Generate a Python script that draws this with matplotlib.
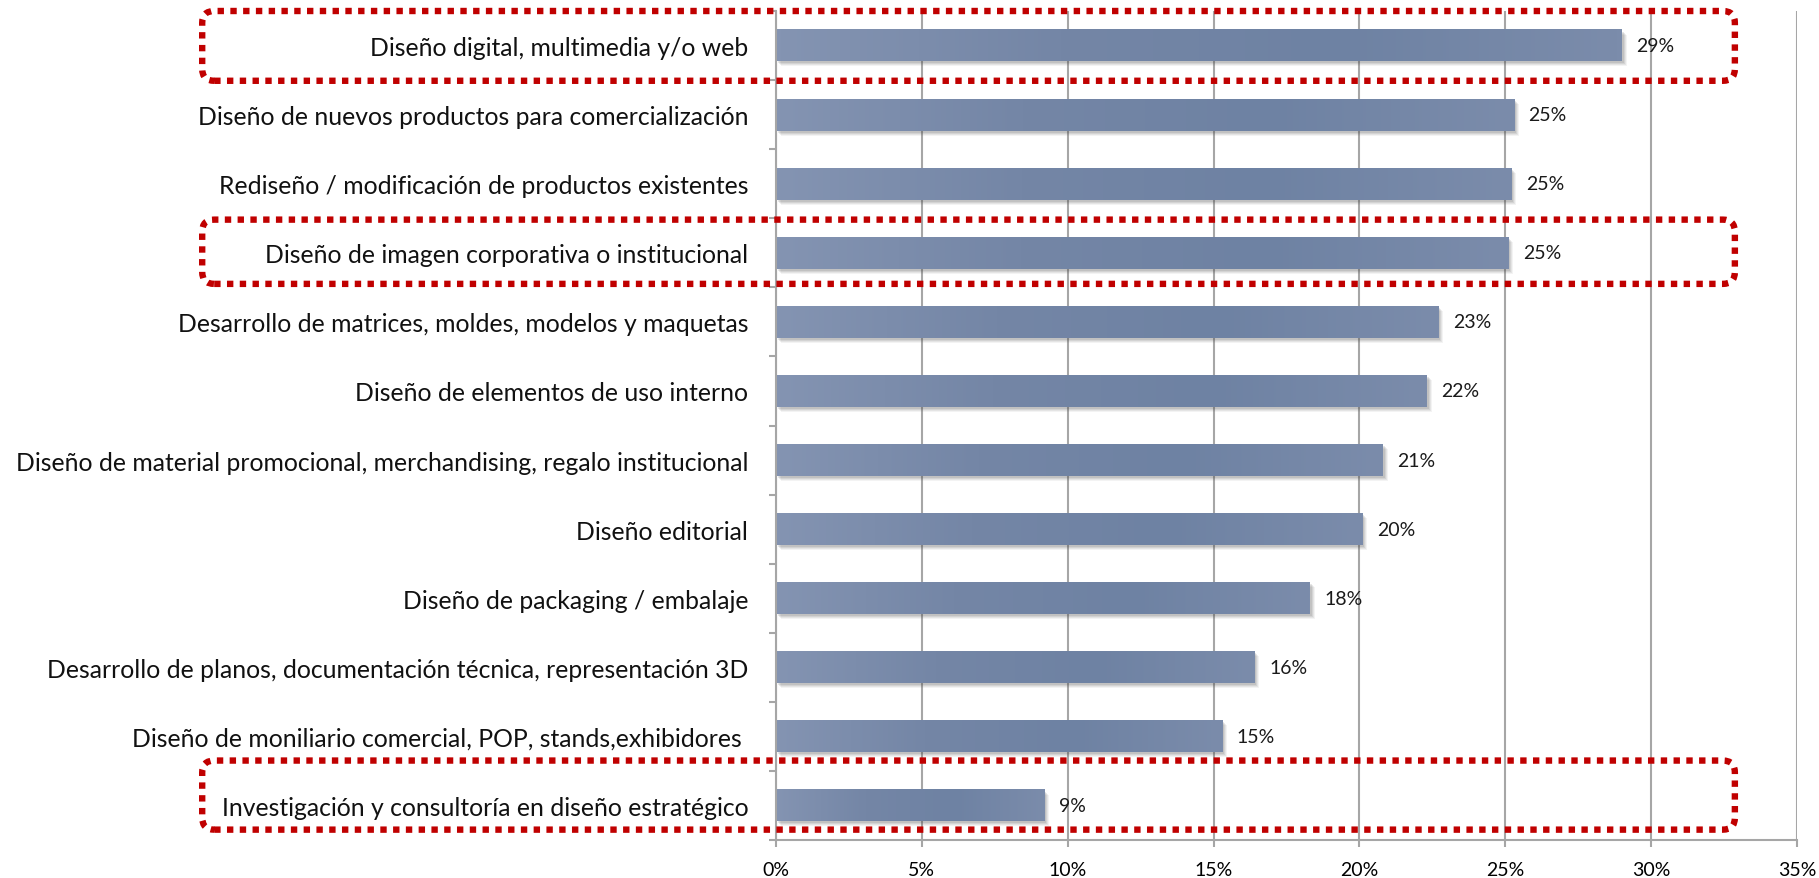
import matplotlib
matplotlib.use('Agg')
import matplotlib.pyplot as plt
import matplotlib.transforms as mtransforms
from matplotlib.patches import FancyBboxPatch, Rectangle
from matplotlib.colors import LinearSegmentedColormap
import numpy as np

# data
categories = ['Diseño digital, multimedia y/o web',
              'Diseño de nuevos productos para comercialización',
              'Rediseño / modificación de productos existentes',
              'Diseño de imagen corporativa o institucional',
              'Desarrollo de matrices, moldes, modelos y maquetas',
              'Diseño de elementos de uso interno',
              'Diseño de material promocional, merchandising, regalo institucional',
              'Diseño editorial',
              'Diseño de packaging / embalaje',
              'Desarrollo de planos, documentación técnica, representación 3D',
              'Diseño de moniliario comercial, POP, stands,exhibidores ',
              'Investigación y consultoría en diseño estratégico']
values = [29.0, 25.3, 25.2, 25.1, 22.7, 22.3, 20.8, 20.1, 18.3, 16.4, 15.3, 9.2]
xticks = [0, 5, 10, 15, 20, 25, 30, 35]

# dotted highlight boxes: (y top, y bottom) in category units, x from/to in %
boxes = [(-0.5, 0.51), (2.52, 3.45), (10.35, 11.35)]
box_x = (-19.67, 32.87)

plt.rcParams['font.family'] = ['Lato', 'DejaVu Sans']

W, H = 1819, 879
fig = plt.figure(figsize=(W/100, H/100), dpi=100)
ax = fig.add_axes([776/W, 1 - 841/H, (1797 - 776)/W, (841 - 12)/H])

n = len(categories)
ax.set_xlim(0, 35)
ax.set_ylim(n - 0.5, -0.5)

grid_c = '#A6A6A6'
bar_h = 0.46
cmap = LinearSegmentedColormap.from_list('bar', ['#8494B2', '#7486A6', '#6E82A3', '#7B8CAB'])
grad = np.linspace(0, 1, 256).reshape(1, -1)

for i, v in enumerate(values):
    # soft shadow
    for k, a in [(5, 0.06), (4, 0.08), (3, 0.10), (2, 0.12)]:
        tr = mtransforms.offset_copy(ax.transData, fig, x=k, y=-k, units='dots')
        ax.add_patch(Rectangle((0, i - bar_h/2), v, bar_h, facecolor='#404040',
                               edgecolor='none', alpha=a, transform=tr, zorder=2))
    ax.imshow(grad, extent=(0, v, i + bar_h/2, i - bar_h/2), cmap=cmap,
              aspect='auto', interpolation='bilinear', zorder=3)
    ax.text(v + 0.5, i, f'{round(v)}%', va='center', ha='left', fontsize=14,
            color='#1a1a1a', zorder=4)

ax.set_xlim(0, 35)
ax.set_ylim(n - 0.5, -0.5)

ax.set_xticks(xticks)
ax.set_xticklabels([f'{t}%' for t in xticks], fontsize=14)
ax.set_yticks(range(n))
ax.set_yticklabels(categories, fontsize=17.8, color='#111111')
ax.set_yticks(np.arange(-0.5, n, 1), minor=True)
ax.tick_params(axis='y', which='major', length=0, pad=20)
ax.tick_params(axis='y', which='minor', length=5, width=1.5, color=grid_c)
ax.tick_params(axis='x', length=5, width=1.5, color=grid_c, pad=10)

ax.xaxis.grid(True, color=grid_c, lw=1.5)
ax.set_axisbelow(True)
for s in ['top', 'right']:
    ax.spines[s].set_visible(False)
for s in ['left', 'bottom']:
    ax.spines[s].set_color(grid_c)
    ax.spines[s].set_linewidth(1.5)
ax.spines['left'].set_zorder(5)

# dotted rounded boxes, drawn in pixel space so the corners stay round
ident = mtransforms.IdentityTransform()
for y0, y1 in boxes:
    (px0, py0), (px1, py1) = ax.transData.transform([(box_x[0], y1), (box_x[1], y0)])
    p = FancyBboxPatch((px0, py0), px1 - px0, py1 - py0,
                       boxstyle='round,pad=0,rounding_size=12',
                       fill=False, edgecolor='#C00000', lw=4.6,
                       linestyle=(0, (1.0, 1.0)), transform=ident,
                       clip_on=False, zorder=6)
    p.set_capstyle('butt')
    ax.add_patch(p)

fig.savefig('out.png', dpi=100)
